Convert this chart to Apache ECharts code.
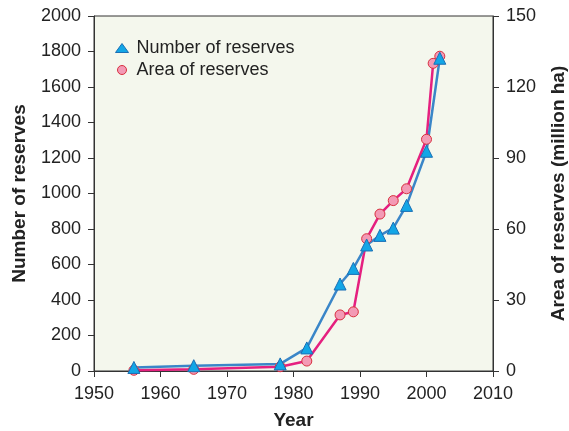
<!DOCTYPE html>
<html><head><meta charset="utf-8">
<script src="https://cdn.jsdelivr.net/npm/echarts@6/dist/echarts.min.js"></script>
<style>html,body{margin:0;padding:0;background:#fff}#c{width:569px;height:431px}</style>
</head><body><div id="c"></div>
<script>
const numYears = [1956, 1965, 1978, 1982, 1987, 1989, 1991, 1993, 1995, 1997, 2000, 2002];
const numValues = [20, 30, 40, 130, 490, 578, 710, 764, 805, 933, 1238, 1762];
const areaYears = [1956, 1965, 1978, 1982, 1987, 1989, 1991, 1993, 1995, 1997, 2000, 2001, 2002];
const areaValues = [0.3, 0.7, 1.8, 4.2, 23.7, 25, 55.9, 66.3, 72, 77, 97.9, 130, 133];
const xTicks = [1950, 2010, 10];
const leftTicks = [0, 2000, 200];
const rightTicks = [0, 150, 30];

const font = 'Liberation Sans, Arial, sans-serif';
const plain = v => String(v);
const chart = echarts.init(document.getElementById('c'));
chart.setOption({
  animation: false,
  textStyle: {fontFamily: font},
  grid: {left: 94, right: 76, top: 16, bottom: 60, containLabel: false, outerBoundsMode: 'none',
    show: true, backgroundColor: '#f4f7ed', borderColor: '#333', borderWidth: 1},
  legend: {
    orient: 'vertical', left: 110, top: 34, itemGap: 4, itemWidth: 13, itemHeight: 9,
    textStyle: {fontSize: 18, color: '#222', fontFamily: font, padding: [0, 0, 0, 3]},
    data: [
      {name: 'Number of reserves', icon: 'triangle', itemStyle: {color: '#12a6e6', borderColor: '#1a6fb5', borderWidth: 1}},
      {name: 'Area of reserves', icon: 'circle', itemStyle: {color: '#f39ab5', borderColor: '#d8303f', borderWidth: 1}}
    ]
  },
  xAxis: {
    type: 'value', min: xTicks[0], max: xTicks[1], interval: xTicks[2],
    name: 'Year', nameLocation: 'middle', nameGap: 40,
    nameTextStyle: {fontSize: 19, fontWeight: 'bold', color: '#222'},
    axisLine: {lineStyle: {color: '#333', width: 1}},
    axisTick: {inside: false, length: 6, lineStyle: {color: '#333'}},
    axisLabel: {fontSize: 18, color: '#222', margin: 14, formatter: plain},
    splitLine: {show: false}
  },
  yAxis: [
    {
      type: 'value', min: leftTicks[0], max: leftTicks[1], interval: leftTicks[2], position: 'left',
      name: 'Number of reserves', nameLocation: 'middle', nameGap: 65, nameRotate: 90,
      nameTextStyle: {fontSize: 19, fontWeight: 'bold', color: '#222'},
      axisLine: {show: true, lineStyle: {color: '#333'}},
      axisTick: {show: true, length: 6, lineStyle: {color: '#333'}},
      axisLabel: {fontSize: 18, color: '#222', margin: 13, formatter: plain},
      splitLine: {show: false}
    },
    {
      type: 'value', min: rightTicks[0], max: rightTicks[1], interval: rightTicks[2], position: 'right',
      name: 'Area of reserves (million ha)', nameLocation: 'middle', nameGap: 56, nameRotate: 90,
      nameTextStyle: {fontSize: 19, fontWeight: 'bold', color: '#222'},
      axisLine: {show: true, lineStyle: {color: '#333'}},
      axisTick: {show: true, length: 6, lineStyle: {color: '#333'}},
      axisLabel: {fontSize: 18, color: '#222', margin: 13, formatter: plain},
      splitLine: {show: false}
    }
  ],
  series: [
    {
      name: 'Area of reserves', type: 'line', yAxisIndex: 1,
      data: areaYears.map((y, i) => [y, areaValues[i]]),
      symbol: 'circle', symbolSize: 10,
      lineStyle: {color: '#e5207f', width: 2.5},
      itemStyle: {color: '#f39ab5', borderColor: '#d8303f', borderWidth: 1}
    },
    {
      name: 'Number of reserves', type: 'line', yAxisIndex: 0,
      data: numYears.map((y, i) => [y, numValues[i]]),
      symbol: 'triangle', symbolSize: 12,
      lineStyle: {color: '#3a86c8', width: 2.5},
      itemStyle: {color: '#12a6e6', borderColor: '#1a6fb5', borderWidth: 1}
    }
  ]
});
</script></body></html>
